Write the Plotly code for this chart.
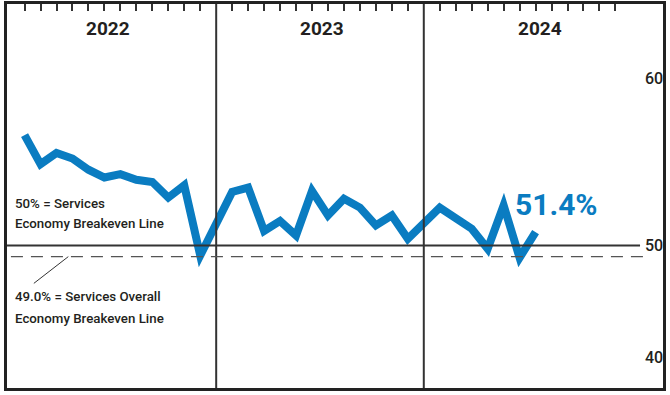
import plotly.graph_objects as go

# ---------------- data ----------------
YEARS = ["2022", "2023", "2024"]
VALUES_2022 = [59.9, 57.3, 58.3, 57.8, 56.8, 56.1, 56.4, 55.9, 55.7, 54.3, 55.4, 49.1]
VALUES_2023 = [54.8, 55.2, 51.3, 52.2, 50.9, 54.9, 52.7, 54.2, 53.4, 51.8, 52.7, 50.6]
VALUES_2024 = [53.4, 52.5, 51.5, 49.7, 53.6, 48.9, 51.2]
LATEST_LABEL = "51.4%"
BREAKEVEN_SERVICES = 50.0
BREAKEVEN_OVERALL = 49.0
NOTE_SERVICES = ["50% = Services", "Economy Breakeven Line"]
NOTE_OVERALL = ["49.0% = Services Overall", "Economy Breakeven Line"]
Y_TICK_LABELS = ["40", "50", "60"]

# ---------------- layout helpers ----------------
SLOTS_PER_YEAR = 13          # one divider slot + 12 months per year panel
Y_TICK_POS = [40, 50, 65]    # where the source chart prints its labels
FONT = "Roboto, Lato, Liberation Sans, sans-serif"
BLUE = "#0a7cc1"
INK = "#231f20"

series = [VALUES_2022, VALUES_2023, VALUES_2024]
xs, ys = [], []
for yi, vals in enumerate(series):
    for m, v in enumerate(vals, start=1):
        xs.append(yi * SLOTS_PER_YEAR + m)
        ys.append(v)

tick_slots = [yi * SLOTS_PER_YEAR + m for yi in range(len(YEARS)) for m in range(1, 13)]
dividers = [yi * SLOTS_PER_YEAR for yi in range(1, len(YEARS))]

fig = go.Figure()
fig.add_trace(go.Scatter(
    x=xs, y=ys, mode="lines",
    line=dict(color=BLUE, width=8),
    hoverinfo="y",
))

shapes = []
for d in dividers:
    shapes.append(dict(type="line", xref="x", yref="paper", x0=d, x1=d, y0=0, y1=1,
                       line=dict(color="#333", width=2)))
shapes.append(dict(type="line", xref="paper", yref="y", x0=0, x1=0.965,
                   y0=BREAKEVEN_SERVICES, y1=BREAKEVEN_SERVICES,
                   line=dict(color="#333", width=2)))
shapes.append(dict(type="line", xref="paper", yref="y", x0=0.006, x1=0.97,
                   y0=BREAKEVEN_OVERALL, y1=BREAKEVEN_OVERALL,
                   line=dict(color="#555", width=1.2, dash="12px,8px")))
shapes.append(dict(type="line", xref="x", yref="y", x0=1.58, y0=46.6, x1=3.74, y1=49.0,
                   line=dict(color="#333", width=1)))

annotations = []
year_pos = [6.2, 19.6, 33.3]
for yr, xp in zip(YEARS, year_pos):
    annotations.append(dict(x=xp, y=69.44, xref="x", yref="y", text=f"<b>{yr}</b>",
                            showarrow=False, font=dict(family=FONT, size=19, color=INK)))
for lines, ypos in [(NOTE_SERVICES, [53.81, 51.94]), (NOTE_OVERALL, [45.42, 43.46])]:
    for txt, yv in zip(lines, ypos):
        annotations.append(dict(x=0.27, y=yv, xref="x", yref="y", text=txt,
                                xanchor="left", yanchor="middle", align="left", showarrow=False,
                                font=dict(family=FONT, size=13.3, color=INK, weight=500)))
annotations.append(dict(x=xs[-1] - 1.4, y=53.7, xref="x", yref="y", text=f"<b>{LATEST_LABEL}</b>",
                        xanchor="left", yanchor="middle", showarrow=False,
                        font=dict(family=FONT, size=30, color=BLUE)))

fig.update_layout(
    width=670, height=395,
    margin=dict(l=4, r=7, t=4, b=5),
    plot_bgcolor="white", paper_bgcolor="white",
    showlegend=False, shapes=shapes, annotations=annotations,
)
fig.update_xaxes(range=[-0.1, 40.98], side="top", tickvals=tick_slots,
                 showticklabels=False, ticks="inside", ticklen=7, tickwidth=1.5,
                 tickcolor="#333", showgrid=False, zeroline=False,
                 showline=True, mirror=True, linecolor="#222", linewidth=3)
fig.update_yaxes(range=[37.21, 71.67], side="right", tickvals=Y_TICK_POS,
                 ticktext=Y_TICK_LABELS, ticklabelposition="inside", ticks="",
                 tickfont=dict(family=FONT, size=16, color=INK, weight=500),
                 showgrid=False, zeroline=False,
                 showline=True, mirror=True, linecolor="#222", linewidth=3)

POST = """
document.body.style.margin = '0';
var gd = document.getElementById('{plot_id}');
gd.querySelectorAll('path.js-line').forEach(function (p) {
  p.style.strokeLinejoin = 'miter';
  p.style.strokeMiterlimit = '20';
  p.style.strokeLinecap = 'butt';
});
"""
fig.write_html("out.html", config={"displayModeBar": False}, post_script=POST)
